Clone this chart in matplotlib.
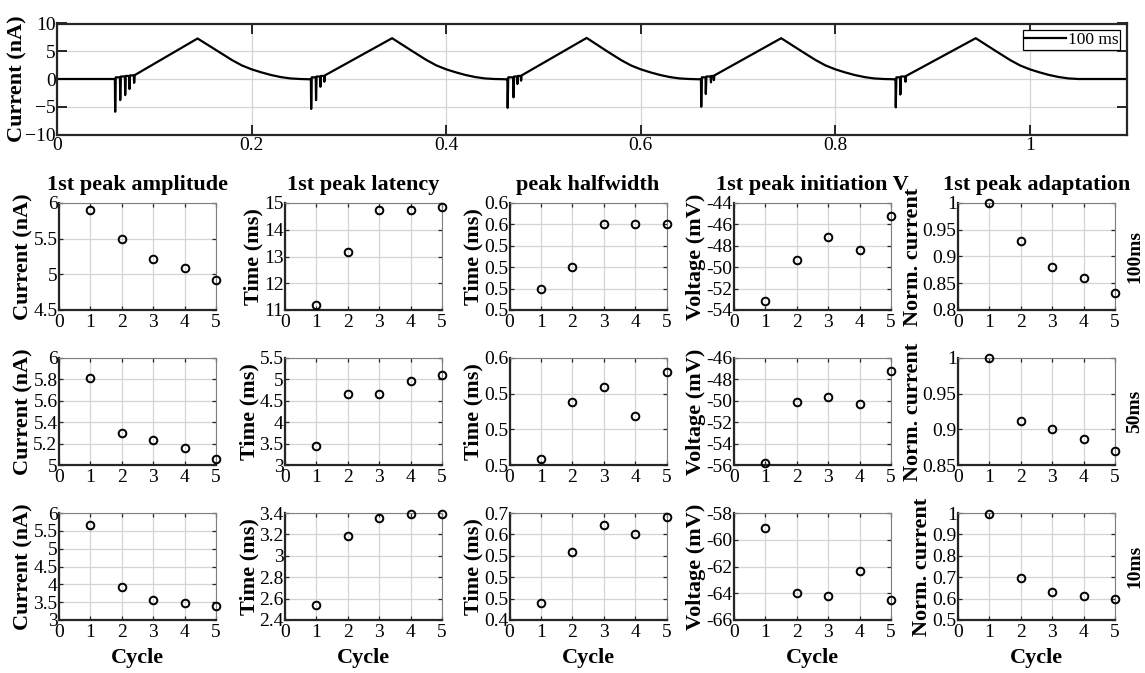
import matplotlib
matplotlib.use('Agg')
import matplotlib.pyplot as plt
from matplotlib.ticker import FixedLocator, FixedFormatter

plt.rcParams['font.family'] = ['Liberation Serif', 'DejaVu Serif']

# ---------------- top trace data ----------------
cycle_starts = [0.0, 0.2, 0.4, 0.6, 0.8]
spike_times = [
    [0.0595, 0.0647, 0.0698, 0.0742, 0.0790],
    [0.2610, 0.2660, 0.2705, 0.2745],
    [0.4630, 0.4690, 0.4730, 0.4768],
    [0.6620, 0.6667, 0.6720, 0.6750],
    [0.8620, 0.8667, 0.8720],
]
spike_amps = [
    [-5.9, -3.8, -2.9, -1.8, -0.7],
    [-5.4, -3.8, -1.4, -0.5],
    [-5.2, -3.3, -0.9, -0.3],
    [-5.0, -2.7, -0.6, -0.2],
    [-5.1, -2.8, -0.5],
]
spike_bases = [0.0, 0.3, 0.45, 0.55, 0.65, 0.7]
peak_rel_t = 0.1445
peak_vals = [7.3, 7.35, 7.4, 7.35, 7.35]
decay_rel_t = [0.165, 0.18, 0.19, 0.20, 0.21, 0.22, 0.23, 0.24, 0.25]
decay_vals = [5.05, 3.4, 2.45, 1.75, 1.2, 0.72, 0.35, 0.1, 0.0]
trace_end = 1.1

# ---------------- panel data ----------------
cycles = [1, 2, 3, 4, 5]
titles = ['1st peak amplitude', '1st peak latency', 'peak halfwidth',
          '1st peak initiation V', '1st peak adaptation']
ylabels = ['Current (nA)', 'Time (ms)', 'Time (ms)', 'Voltage (mV)', 'Norm. current']
row_labels = ['100ms', '50ms', '10ms']

amp_100 = [5.90, 5.50, 5.21, 5.09, 4.92]
lat_100 = [11.2, 13.16, 14.75, 14.75, 14.85]
hw_100 = [0.50, 0.52, 0.56, 0.56, 0.56]
vinit_100 = [-53.2, -49.3, -47.15, -48.4, -45.25]
adapt_100 = [1.0, 0.929, 0.881, 0.860, 0.831]

amp_50 = [5.81, 5.30, 5.23, 5.16, 5.06]
lat_50 = [3.45, 4.66, 4.66, 4.97, 5.10]
hw_50 = [0.5035, 0.5356, 0.5438, 0.5277, 0.5519]
vinit_50 = [-55.85, -50.15, -49.65, -50.3, -47.25]
adapt_50 = [1.0, 0.912, 0.901, 0.887, 0.870]

amp_10 = [5.67, 3.93, 3.55, 3.47, 3.38]
lat_10 = [2.54, 3.185, 3.353, 3.387, 3.387]
hw_10 = [0.449, 0.591, 0.665, 0.640, 0.688]
vinit_10 = [-59.1, -63.95, -64.2, -62.3, -64.5]
adapt_10 = [0.997, 0.698, 0.633, 0.613, 0.598]

values = [
    [amp_100, lat_100, hw_100, vinit_100, adapt_100],
    [amp_50, lat_50, hw_50, vinit_50, adapt_50],
    [amp_10, lat_10, hw_10, vinit_10, adapt_10],
]

yticks = [
    [[4.5, 5, 5.5, 6], [11, 12, 13, 14, 15], [0.48, 0.50, 0.52, 0.54, 0.56, 0.58],
     [-54, -52, -50, -48, -46, -44], [0.8, 0.85, 0.9, 0.95, 1]],
    [[5, 5.2, 5.4, 5.6, 5.8, 6], [3, 3.5, 4, 4.5, 5, 5.5], [0.50, 0.52, 0.54, 0.56],
     [-56, -54, -52, -50, -48, -46], [0.85, 0.9, 0.95, 1]],
    [[3, 3.5, 4, 4.5, 5, 5.5, 6], [2.4, 2.6, 2.8, 3, 3.2, 3.4], [0.4, 0.46, 0.52, 0.58, 0.64, 0.7],
     [-66, -64, -62, -60, -58], [0.5, 0.6, 0.7, 0.8, 0.9, 1]],
]
yticklabels = [
    [['4.5', '5', '5.5', '6'], ['11', '12', '13', '14', '15'],
     ['0.5', '0.5', '0.5', '0.5', '0.6', '0.6'],
     ['-54', '-52', '-50', '-48', '-46', '-44'], ['0.8', '0.85', '0.9', '0.95', '1']],
    [['5', '5.2', '5.4', '5.6', '5.8', '6'], ['3', '3.5', '4', '4.5', '5', '5.5'],
     ['0.5', '0.5', '0.5', '0.6'],
     ['-56', '-54', '-52', '-50', '-48', '-46'], ['0.85', '0.9', '0.95', '1']],
    [['3', '3.5', '4', '4.5', '5', '5.5', '6'], ['2.4', '2.6', '2.8', '3', '3.2', '3.4'],
     ['0.4', '0.5', '0.5', '0.5', '0.6', '0.7'],
     ['-66', '-64', '-62', '-60', '-58'], ['0.5', '0.6', '0.7', '0.8', '0.9', '1']],
]

# ---------------- figure ----------------
W, H = 1145, 673
fig = plt.figure(figsize=(W / 100, H / 100), dpi=100)
fig.patch.set_facecolor('white')


def px_axes(left, top, width, height):
    return fig.add_axes([left / W, 1 - (top + height) / H, width / W, height / H])


def style_box(ax, lw_lb=1.6, lw_tr=0.8, c_tr='#7f7f7f'):
    for s in ['left', 'bottom']:
        ax.spines[s].set_linewidth(lw_lb)
        ax.spines[s].set_color('#262626')
    for s in ['top', 'right']:
        ax.spines[s].set_linewidth(lw_tr)
        ax.spines[s].set_color(c_tr)
    ax.grid(True, color='#d4d4d4', linewidth=0.9)
    ax.set_axisbelow(True)


# top trace
trace_t = [0.0]
trace_i = [0.0]
for k, t0 in enumerate(cycle_starts):
    sts = spike_times[k]
    sas = spike_amps[k]
    trace_t.append(sts[0] - 0.001)
    trace_i.append(0.0 if k == 0 else -0.05)
    for j, (ts, sa) in enumerate(zip(sts, sas)):
        trace_t += [ts, ts + 0.0003, ts + 0.0009]
        trace_i += [spike_bases[j], sa, spike_bases[j + 1]]
    trace_t.append(t0 + peak_rel_t)
    trace_i.append(peak_vals[k])
    for dt, dv in zip(decay_rel_t, decay_vals):
        trace_t.append(t0 + dt)
        trace_i.append(dv)
trace_t.append(trace_end)
trace_i.append(0.0)

axt = px_axes(57, 23.5, 1070, 111)
axt.plot(trace_t, trace_i, color='black', linewidth=1.6, label='100 ms')
axt.set_xlim(0, 1.1)
axt.set_ylim(-10, 10)
axt.set_xticks([0, 0.2, 0.4, 0.6, 0.8, 1])
axt.set_xticklabels(['0', '0.2', '0.4', '0.6', '0.8', '1'])
axt.set_yticks([-10, -5, 0, 5, 10])
axt.tick_params(direction='in', top=True, right=True, length=7, width=1.4,
                labelsize=14, pad=1, color='#262626')
axt.tick_params(axis='x', pad=2)
for s in axt.spines.values():
    s.set_linewidth(1.6)
    s.set_color('#262626')
axt.grid(True, color='#d4d4d4', linewidth=0.9)
axt.set_axisbelow(True)
axt.set_ylabel('Current (nA)', fontsize=16, fontweight='bold', labelpad=-2)
leg = axt.legend(loc='upper right', fontsize=12.5, frameon=True, fancybox=False,
                 framealpha=1, edgecolor='black', handlelength=2.4, handletextpad=0.1,
                 borderpad=0.1, borderaxespad=0.4)
leg.get_frame().set_linewidth(0.9)

# small panels
col_left = [59, 285, 509.5, 734, 958]
row_top = [203, 358, 513]
pw, ph = 157, 107

for r in range(3):
    for c in range(5):
        ax = px_axes(col_left[c], row_top[r], pw, ph)
        ax.plot(cycles, values[r][c], linestyle='none', marker='o', markersize=5.5,
                markerfacecolor='none', markeredgecolor='black', markeredgewidth=1.4,
                clip_on=False, zorder=5)
        ax.set_xlim(0, 5)
        ax.set_xticks([0, 1, 2, 3, 4, 5])
        tk = yticks[r][c]
        ax.set_ylim(tk[0], tk[-1])
        ax.yaxis.set_major_locator(FixedLocator(tk))
        ax.yaxis.set_major_formatter(FixedFormatter(yticklabels[r][c]))
        ax.tick_params(direction='in', top=True, right=True, length=3, width=0.9,
                       labelsize=14, pad=1, color='#262626')
        ax.tick_params(axis='x', pad=3)
        style_box(ax)
        ax.set_ylabel(ylabels[c], fontsize=16, fontweight='bold', labelpad=0)
        if r == 0:
            ax.set_title(titles[c], fontsize=16, fontweight='bold', pad=9)
        if r == 2:
            ax.set_xlabel('Cycle', fontsize=16, fontweight='bold', labelpad=5)
    fig.text(1135 / W, 1 - (row_top[r] + ph / 2) / H, row_labels[r], rotation=90,
             ha='center', va='center', fontsize=14, fontweight='bold')

fig.savefig('out.png', dpi=100, facecolor='white')
